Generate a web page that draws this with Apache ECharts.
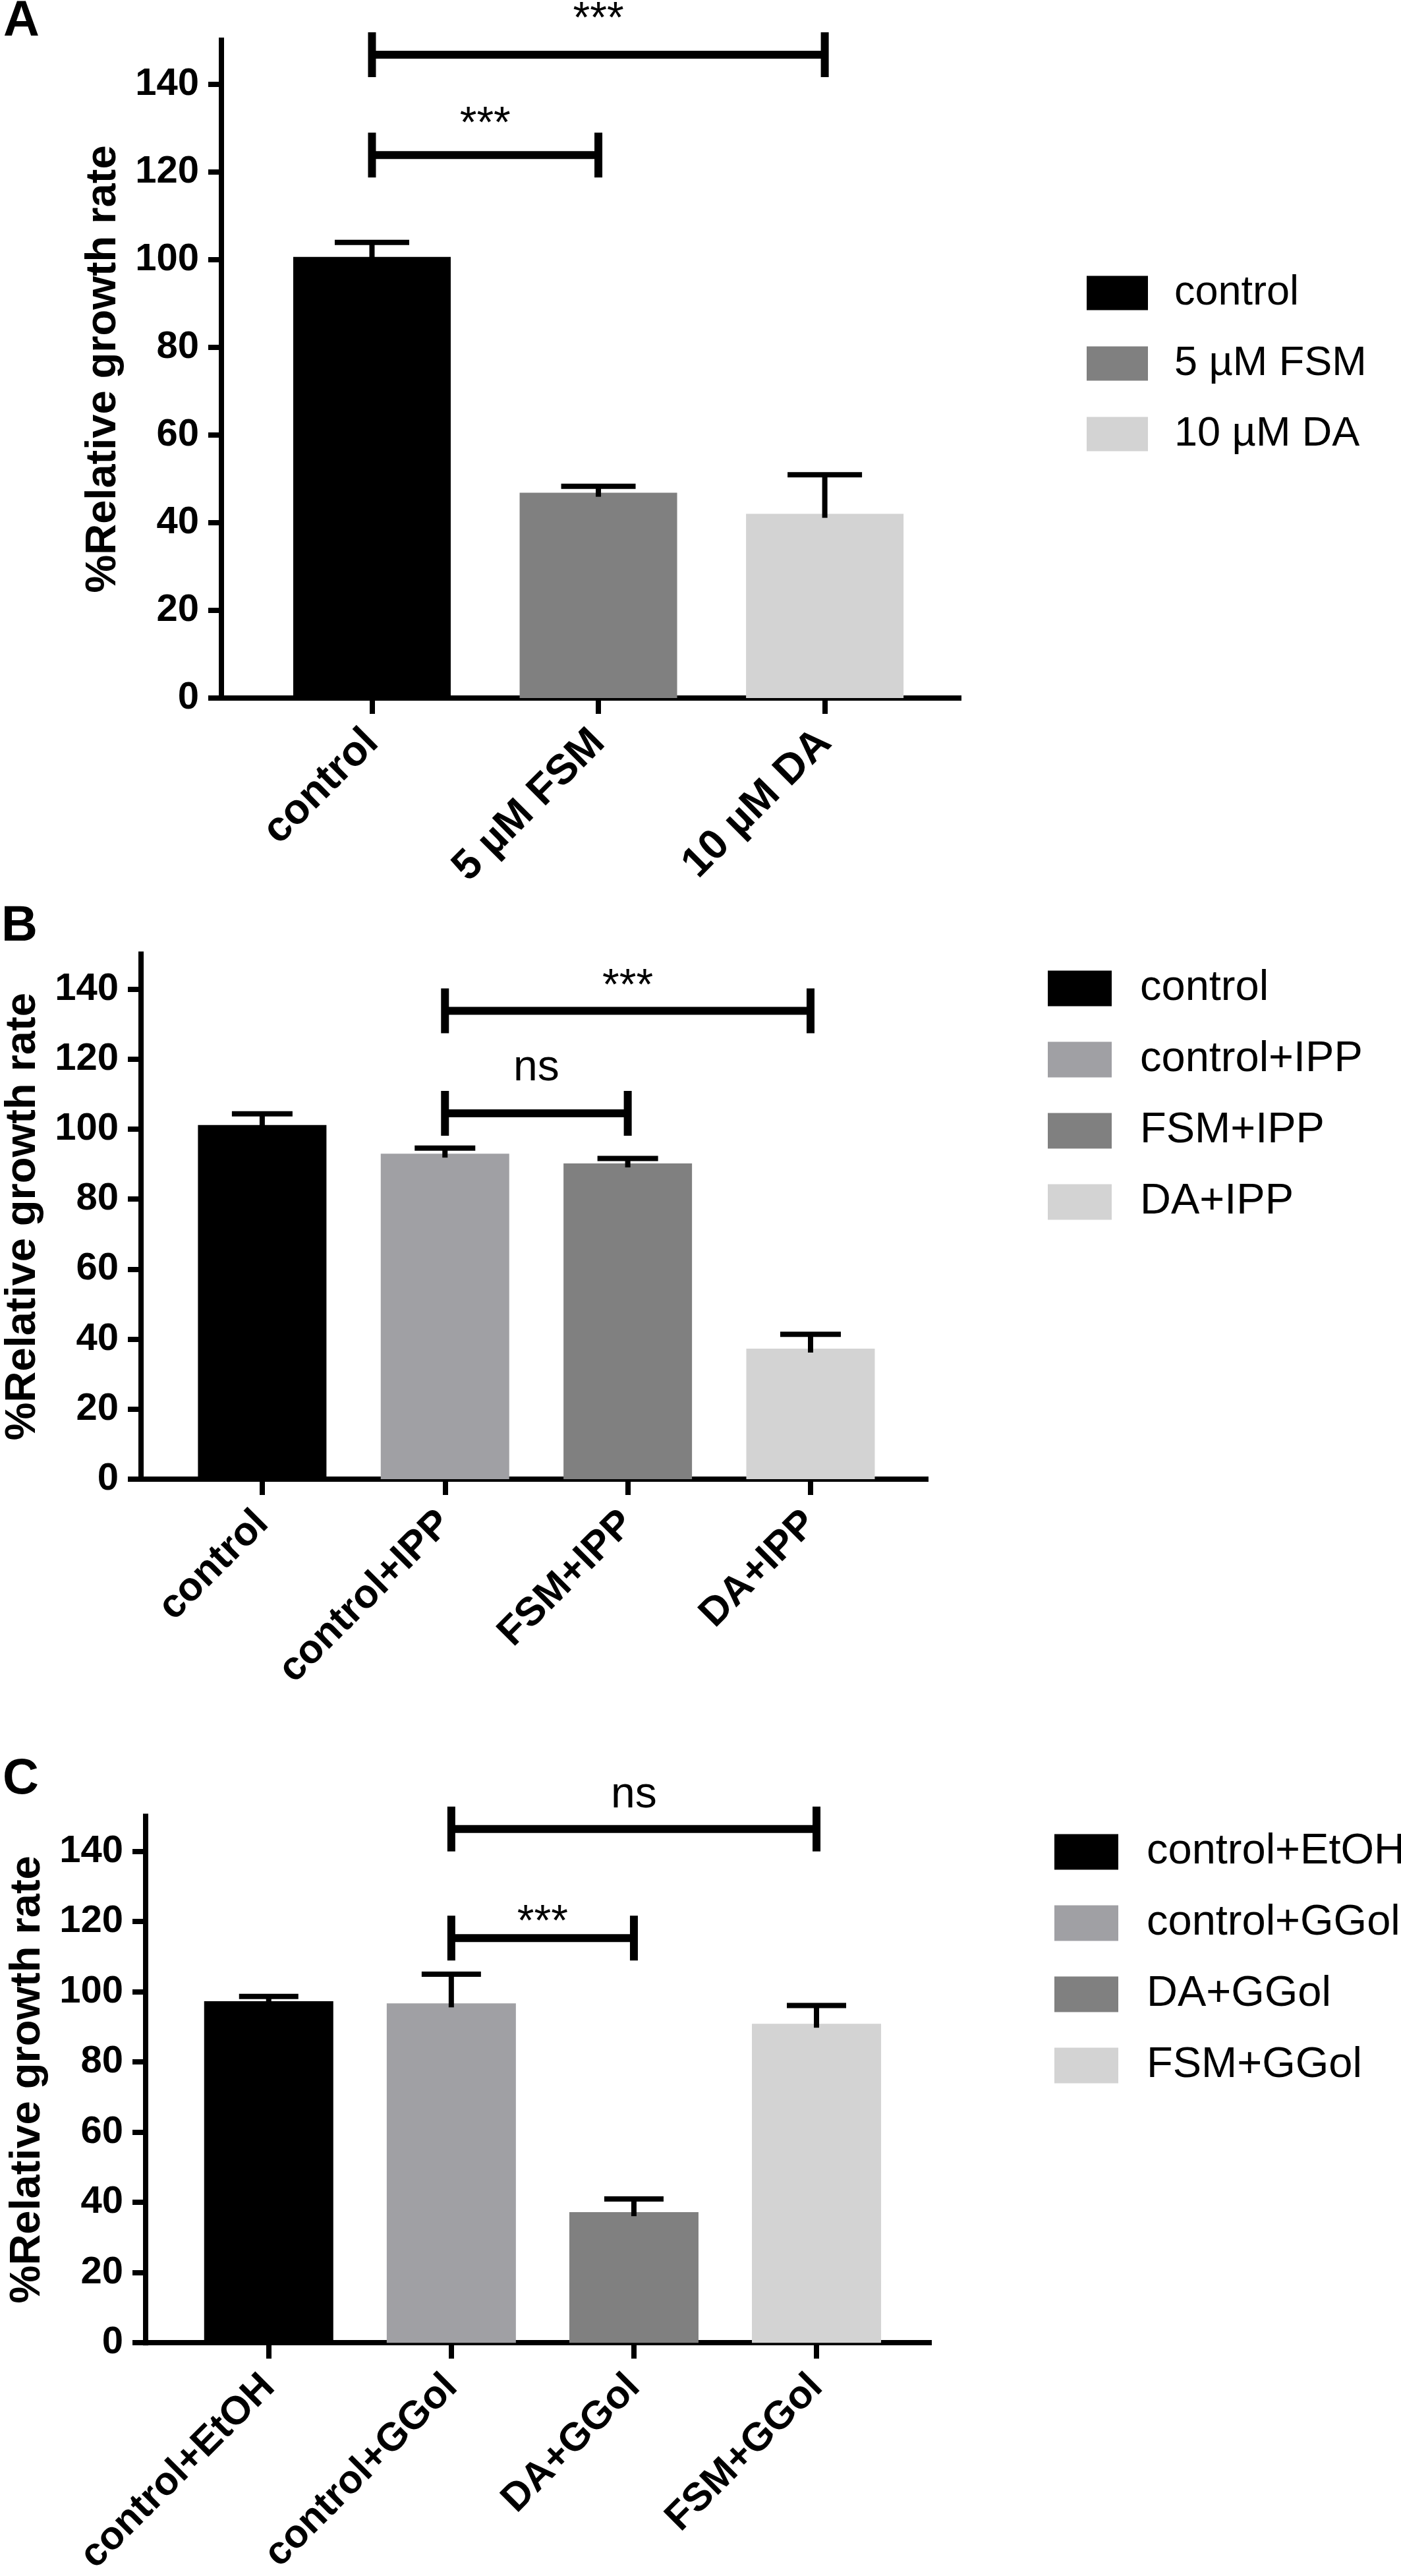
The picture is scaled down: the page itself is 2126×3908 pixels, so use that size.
<!DOCTYPE html>
<html><head><meta charset="utf-8">
<script src="https://cdn.jsdelivr.net/npm/echarts@6/dist/echarts.min.js"></script>
<style>html,body{margin:0;padding:0;background:#fff}#c{width:2126px;height:3908px}</style>
</head><body><div id="c"></div>
<script>
// ---------- data ----------
const yTicks = [0, 20, 40, 60, 80, 100, 120, 140];
const yMin = 0, yMax = 150;
const yTitle = '%Relative growth rate';

// Panel A
const catsA = ['control', '5 µM FSM', '10 µM DA'];
const meanA = [100.6, 46.8, 42.0];
const errA  = [3.3, 1.5, 8.9];
const sigA  = [[0, 2, 146.7, '***'], [0, 1, 123.8, '***']];   // [from, to, y, label]

// Panel B
const catsB = ['control', 'control+IPP', 'FSM+IPP', 'DA+IPP'];
const meanB = [101.2, 93.0, 90.2, 37.3];
const errB  = [3.2, 1.6, 1.4, 4.1];
const sigB  = [[1, 3, 133.8, '***'], [1, 2, 104.5, 'ns']];

// Panel C
const catsC = ['control+EtOH', 'control+GGol', 'DA+GGol', 'FSM+GGol'];
const meanC = [97.3, 96.7, 37.2, 90.9];
const errC  = [1.4, 8.3, 3.8, 5.2];
const sigC  = [[1, 3, 146.4, 'ns'], [1, 2, 115.3, '***']];

// ---------- styles / layout ----------
const FONT = "'Liberation Sans', Arial, Helvetica, sans-serif";
const colorsA = ['#000000', '#808080', '#d3d3d3'];
const colorsB = ['#000000', '#a0a0a4', '#808080', '#d3d3d3'];
const colorsC = ['#000000', '#a0a0a4', '#808080', '#d3d3d3'];

const panels = [
  { letter: 'A', cats: catsA, mean: meanA, err: errA, sig: sigA, colors: colorsA,
    grid: { left: 336, top: 61, width: 1119, height: 998 }, padL: 0.665, padR: 0.592,
    barW: 239, capW: 113, catFs: 64,
    sigLift: [19, 13], letterPos: [5, -5],
    legend: { left: 1649, top: 413, iw: 93, ih: 52, fs: 63, gap: 44, pad: 35 } },
  { letter: 'B', cats: catsB, mean: meanB, err: errB, sig: sigB, colors: colorsB,
    grid: { left: 214, top: 1447.5, width: 1191, height: 796.5 }, padL: 0.663, padR: 0.631,
    barW: 195, capW: 92, catFs: 61,
    sigLift: [3, 35], letterPos: [2, 1368],
    legend: { left: 1590, top: 1467, iw: 97, ih: 54, fs: 65, gap: 43, pad: 38 } },
  { letter: 'C', cats: catsC, mean: meanC, err: errC, sig: sigC, colors: colorsC,
    grid: { left: 221, top: 2755.5, width: 1189, height: 798.7 }, padL: 0.674, padR: 0.617,
    barW: 196, capW: 90, catFs: 60,
    sigLift: [18, -11], letterPos: [4, 2662],
    legend: { left: 1600, top: 2777, iw: 97, ih: 54, fs: 65, gap: 43, pad: 38 } }
];

const grids = [], xAxes = [], yAxes = [], series = [], legends = [], graphics = [];

panels.forEach((p, k) => {
  const n = p.cats.length;
  const idx = p.cats.map((_, i) => i);
  grids.push(Object.assign({ containLabel: false, outerBoundsMode: 'none' }, p.grid));
  xAxes.push({
    type: 'value', gridIndex: k, min: -p.padL, max: n - 1 + p.padR,
    splitLine: { show: false },
    axisLine: { show: true, onZero: false, lineStyle: { color: '#000', width: 8, cap: 'square' } },
    axisTick: { show: true, customValues: idx, length: 24, lineStyle: { color: '#000', width: 8 } },
    axisLabel: { show: true, customValues: idx, formatter: v => p.cats[Math.round(v)],
      rotate: 45, margin: 58, fontSize: p.catFs, fontWeight: 'bold', color: '#000', fontFamily: FONT }
  });
  yAxes.push({
    type: 'value', gridIndex: k, min: yMin, max: yMax,
    splitLine: { show: false },
    axisLine: { show: true, onZero: false, lineStyle: { color: '#000', width: 8, cap: 'square' } },
    axisTick: { show: true, customValues: yTicks, length: 20, lineStyle: { color: '#000', width: 8 } },
    axisLabel: { show: true, customValues: yTicks, margin: 34, fontSize: 58, fontWeight: 'bold',
      color: '#000', fontFamily: FONT },
    name: yTitle, nameLocation: 'middle', nameGap: 146,
    nameTextStyle: { fontSize: 65, fontWeight: 'bold', color: '#000', fontFamily: FONT }
  });
  p.cats.forEach((c, i) => {
    series.push({
      type: 'bar', name: c, xAxisIndex: k, yAxisIndex: k,
      data: [[i, p.mean[i]]], barWidth: p.barW, barGap: '-100%',
      itemStyle: { color: p.colors[i] }, silent: true, z: 2
    });
  });
  // error bars (upper)
  series.push({
    type: 'custom', xAxisIndex: k, yAxisIndex: k, z: 5, silent: true,
    data: p.mean.map((m, i) => [i, m, m + p.err[i]]),
    renderItem: (params, api) => {
      const b = api.coord([api.value(0), api.value(1)]);
      const t = api.coord([api.value(0), api.value(2)]);
      return { type: 'group', children: [
        { type: 'line', shape: { x1: b[0], y1: b[1] + 6, x2: t[0], y2: t[1] }, style: { stroke: '#000', lineWidth: 8 } },
        { type: 'line', shape: { x1: t[0] - p.capW / 2, y1: t[1], x2: t[0] + p.capW / 2, y2: t[1] }, style: { stroke: '#000', lineWidth: 8 } }
      ] };
    }
  });
  // significance brackets
  series.push({
    type: 'custom', xAxisIndex: k, yAxisIndex: k, z: 6, silent: true,
    data: p.sig.map(s => [s[0], s[2], s[1]]),
    renderItem: (params, api) => {
      const p1 = api.coord([api.value(0), api.value(1)]);
      const p2 = api.coord([api.value(2), api.value(1)]);
      const lbl = p.sig[params.dataIndex][3];
      const lift = p.sigLift[params.dataIndex];
      const h = 34;
      return { type: 'group', children: [
        { type: 'line', shape: { x1: p1[0], y1: p1[1], x2: p2[0], y2: p2[1] }, style: { stroke: '#000', lineWidth: 12 } },
        { type: 'line', shape: { x1: p1[0], y1: p1[1] - h, x2: p1[0], y2: p1[1] + h }, style: { stroke: '#000', lineWidth: 12 } },
        { type: 'line', shape: { x1: p2[0], y1: p2[1] - h, x2: p2[0], y2: p2[1] + h }, style: { stroke: '#000', lineWidth: 12 } },
        { type: 'text', style: { text: lbl, x: (p1[0] + p2[0]) / 2, y: p1[1] - lift, align: 'center',
          verticalAlign: 'bottom', fontSize: 66, fontFamily: FONT, fill: '#000' } }
      ] };
    }
  });
  legends.push({
    data: p.cats, orient: 'vertical', left: p.legend.left, top: p.legend.top, padding: 0,
    itemWidth: p.legend.iw, itemHeight: p.legend.ih, itemGap: p.legend.gap,
    icon: 'rect', selectedMode: false,
    textStyle: { fontSize: p.legend.fs, lineHeight: p.legend.fs, color: '#000', fontFamily: FONT,
      padding: [0, 0, 0, p.legend.pad] }
  });
  graphics.push({ type: 'text', left: p.letterPos[0], top: p.letterPos[1],
    style: { text: p.letter, fontSize: 76, fontWeight: 'bold', fontFamily: FONT, fill: '#000' } });
});

const chart = echarts.init(document.getElementById('c'), null, { renderer: 'canvas' });
chart.setOption({
  backgroundColor: '#ffffff',
  animation: false,
  grid: grids, xAxis: xAxes, yAxis: yAxes, series: series, legend: legends,
  graphic: graphics, tooltip: { show: false }
});
</script></body></html>
